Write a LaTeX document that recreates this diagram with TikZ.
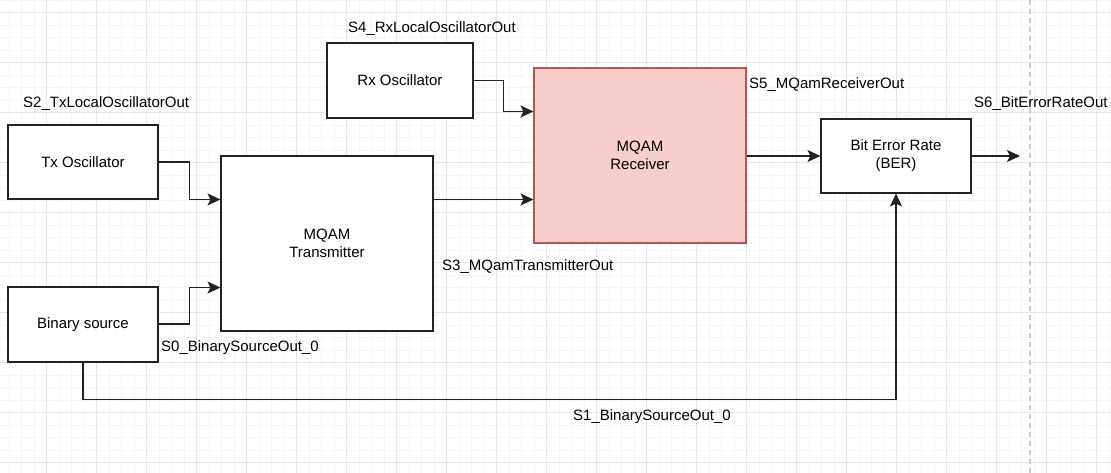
\documentclass[tikz,border=0pt]{standalone}
\usepackage{fontspec}
\setmainfont{Liberation Sans}
\usetikzlibrary{arrows.meta,calc}
\definecolor{gridminor}{HTML}{F5F5F5}
\definecolor{gridmajor}{HTML}{E6E6E6}
\definecolor{rcvfill}{HTML}{F8CECC}
\definecolor{rcvdraw}{HTML}{B85450}
\definecolor{boxline}{HTML}{222222}
\tikzset{
  blk/.style={draw=boxline, line width=1.1pt, fill=white, align=center, inner sep=0pt,
    font=\fontsize{15}{18}\selectfont},
  arr/.style={draw=boxline, line width=1.1pt, -{Stealth[length=13pt,width=12pt,inset=3pt]}},
  conn/.style={draw=boxline, line width=1.1pt},
  lbl/.style={anchor=west, inner sep=0pt, font=\fontsize{15}{18}\selectfont}
}
\begin{document}
\begin{tikzpicture}[x=1pt,y=-1pt]
\useasboundingbox (0,0) rectangle (1111,473);
\fill[white] (0,0) rectangle (1111,473);
% grid
\foreach \k in {0,...,88} {
  \draw[gridminor, line width=0.8pt] ({9.2+12.5*\k},0) -- ({9.2+12.5*\k},473);
}
\foreach \k in {0,...,38} {
  \draw[gridminor, line width=0.8pt] (0,{12.5*\k}) -- (1111,{12.5*\k});
}
\foreach \k in {-1,...,22} {
  \draw[gridmajor, line width=1pt] ({46.7+50*\k},0) -- ({46.7+50*\k},473);
}
\foreach \k in {0,...,9} {
  \draw[gridmajor, line width=1pt] (0,{12.5+50*\k}) -- (1111,{12.5+50*\k});
}
\draw[gray!40, line width=1.2pt, dash pattern=on 5pt off 4pt] (1030,0) -- (1030,473);

% blocks
\node[blk, minimum width=150pt, minimum height=74pt] (txo) at (83,162) {Tx Oscillator};
\node[blk, minimum width=150pt, minimum height=75pt] (bin) at (83,324.5) {Binary source};
\node[blk, minimum width=212pt, minimum height=175pt] (txm) at (327,243.5) {MQAM\\Transmitter};
\node[blk, minimum width=146pt, minimum height=75pt] (rxo) at (400,80.5) {Rx Oscillator};
\node[blk, draw=rcvdraw, fill=rcvfill, minimum width=212pt, minimum height=175pt] (rcv) at (640,155.5) {MQAM\\Receiver};
\node[blk, minimum width=150pt, minimum height=74pt] (ber) at (896,156) {Bit Error Rate\\(BER)};

% anchor points
\coordinate (txin1) at ($(txm.north west)!0.25!(txm.south west)$);
\coordinate (txin2) at ($(txm.north west)!0.75!(txm.south west)$);
\coordinate (rin1) at ($(rcv.north west)!0.25!(rcv.south west)$);
\coordinate (rin2) at ($(rcv.north west)!0.75!(rcv.south west)$);
\coordinate (out) at (1020,156);

% connectors
\draw[arr] (txo.east) -- ++(31,0) |- (txin1);
\draw[arr] (bin.east |- 0,324) -- ++(31,0) |- (txin2);
\draw[arr] (txm.east |- rin2) -- (rin2);
\draw[arr] (rxo.east) -- ++(30,0) |- (rin1);
\draw[arr] (rcv.east |- ber.west) -- (ber.west);
\draw[arr] (ber.east) -- (out);
\draw[arr] (bin.south) -- ++(0,37) -| (ber.south);

% labels
\node[lbl] (l2) at (23,104) {S2\_TxLocalOscillatorOut};
\node[lbl] (l4) at (348,29) {S4\_RxLocalOscillatorOut};
\node[lbl] (l5) at (749,85) {S5\_MQamReceiverOut};
\node[lbl] (l6) at (974,104) {S6\_BitErrorRateOut};
\node[lbl] (l3) at (442,267) {S3\_MQamTransmitterOut};
\node[lbl] (l0) at (161,348) {S0\_BinarySourceOut\_0};
\node[lbl] (l1) at (573,417) {S1\_BinarySourceOut\_0};
\end{tikzpicture}
\end{document}
